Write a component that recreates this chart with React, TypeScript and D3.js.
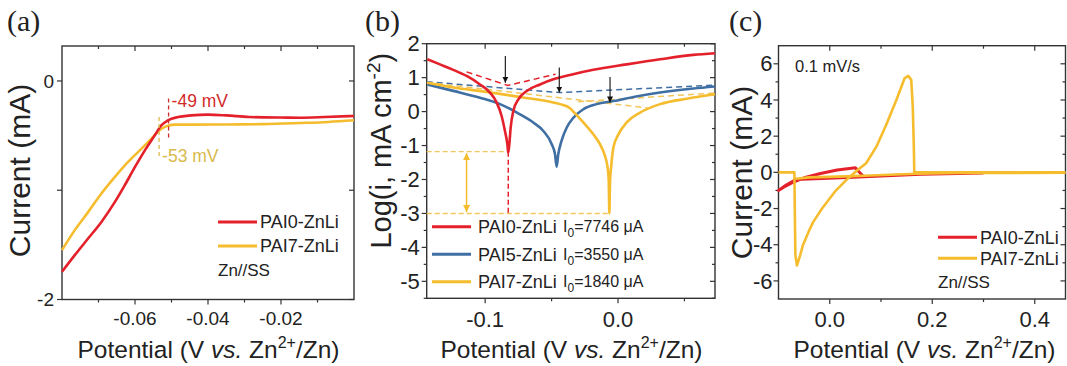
import React from "react";
import * as d3 from "d3";

type Pt = [number, number];

// ---------- Panel (a): LSV, Zn//SS ----------
const aPAI0: Pt[] = [
  [-0.08, -1.746], [-0.0765, -1.594], [-0.0728, -1.44], [-0.0692, -1.29], [-0.0655, -1.107],
  [-0.0628, -0.954], [-0.06, -0.787], [-0.0573, -0.635], [-0.0546, -0.498], [-0.0528, -0.406],
  [-0.051, -0.361], [-0.0482, -0.33], [-0.0446, -0.315], [-0.04, -0.308], [-0.035, -0.315],
  [-0.0287, -0.33], [-0.02, -0.335], [-0.015, -0.336], [-0.008, -0.33], [0, -0.32],
];
const aPAI7: Pt[] = [
  [-0.08, -1.548], [-0.0765, -1.365], [-0.0728, -1.198], [-0.0692, -1.03], [-0.0655, -0.878],
  [-0.0619, -0.741], [-0.0582, -0.619], [-0.0555, -0.528], [-0.0533, -0.452], [-0.0515, -0.416],
  [-0.0492, -0.4], [-0.0446, -0.4], [-0.035, -0.398], [-0.025, -0.395], [-0.015, -0.385],
  [-0.007, -0.375], [0, -0.36],
];
const aXMajor = [-0.06, -0.04, -0.02];
const aXMinor = [-0.07, -0.05, -0.03, -0.01];
const aYMajor = [0, -1, -2];
const aYLabeled = [0, -2];
const aOnsetV = [-0.0508, -0.0534];
const aOnsetTop = [-0.16, -0.33];
const aOnsetBot = [-0.54, -0.71];
const aOnsetTextY = [-0.24, -0.74];
const aOnsetText = ["-49 mV", "-53 mV"];

// ---------- Panel (b): Tafel ----------
const bPAI0: Pt[] = [
  [-0.1435, 1.54], [-0.134, 1.39], [-0.124, 1.23], [-0.1139, 1.05], [-0.1039, 0.8],
  [-0.0964, 0.56], [-0.0913, 0.265], [-0.0876, -0.13], [-0.0851, -0.57], [-0.0833, -0.96],
  [-0.0826, -1.21], [-0.0818, -0.96], [-0.0808, -0.47], [-0.0788, 0.02], [-0.075, 0.36],
  [-0.0687, 0.61], [-0.0587, 0.8], [-0.0487, 0.95], [-0.0361, 1.08], [-0.0186, 1.23],
  [0.0065, 1.39], [0.0316, 1.54], [0.0567, 1.67], [0.073, 1.72],
];
const bPAI5: Pt[] = [
  [-0.1435, 0.8], [-0.124, 0.61], [-0.1039, 0.41], [-0.0888, 0.22], [-0.0738, -0.08],
  [-0.0638, -0.32], [-0.0562, -0.57], [-0.0499, -0.96], [-0.0474, -1.26], [-0.0462, -1.62],
  [-0.045, -1.26], [-0.0424, -0.85], [-0.0386, -0.47], [-0.0336, -0.18], [-0.0261, 0.07],
  [-0.016, 0.22], [-0.0035, 0.31], [0.0116, 0.43], [0.0316, 0.56], [0.0567, 0.68], [0.073, 0.74],
];
const bPAI7: Pt[] = [
  [-0.1435, 0.85], [-0.124, 0.71], [-0.0988, 0.58], [-0.0738, 0.43], [-0.0487, 0.27],
  [-0.0437, 0.22], [-0.0361, 0.1], [-0.0336, 0.0], [-0.0261, -0.32], [-0.0186, -0.67],
  [-0.0136, -0.96], [-0.0098, -1.31], [-0.0078, -1.65], [-0.007, -2.05], [-0.0065, -3.0],
  [-0.006, -2.05], [-0.0052, -1.65], [-0.0035, -1.06], [0.0003, -0.67], [0.0065, -0.32],
  [0.0166, -0.03], [0.0316, 0.22], [0.0517, 0.38], [0.073, 0.51],
];
const bTafel0: Pt[] = [[-0.114, 1.17], [-0.083, 0.77], [-0.047, 1.1]];
const bTafel5: Pt[] = [[-0.144, 0.88], [-0.044, 0.56], [0.073, 0.78]];
const bTafel7a: Pt[] = [[-0.144, 0.86], [0.022, 0.11]];
const bTafel7b: Pt[] = [[-0.03, 0.29], [0.073, 0.55]];
const bArrows: [number, number, number][] = [
  [-0.0848, 1.64, 0.85], [-0.0442, 1.3, 0.56], [-0.006, 1.02, 0.27],
];
const bEcorr0 = -0.0826;
const bEcorr7 = -0.0065;
const bLevels = [-1.18, -3.0];
const bSpanX = -0.114;
const bNames = ["PAI0-ZnLi", "PAI5-ZnLi", "PAI7-ZnLi"];
const bI0 = ["7746", "3550", "1840"];
const bXMajor = [-0.1, 0.0];
const bXMinor = [-0.05, 0.05];
const bYMajor = [-5, -4, -3, -2, -1, 0, 1, 2];
const bYMinor = [-5.5, -4.5, -3.5, -2.5, -1.5, -0.5, 0.5, 1.5];

// ---------- Panel (c): CV ----------
const cPAI0: Pt[] = [
  [0.3, -0.03], [0.177, -0.1], [0.034, -0.28], [-0.066, -0.4], [-0.085, -0.7], [-0.1, -1.0],
  [-0.09, -0.82], [-0.075, -0.6], [-0.06, -0.42], [-0.05, -0.3], [-0.018, -0.06],
  [0.0145, 0.13], [0.05, 0.26], [0.057, 0.03], [0.065, -0.2],
];
const cPAI7: Pt[] = [
  [-0.1, 0], [-0.069, 0], [-0.068, -2.5], [-0.067, -4.6], [-0.064, -5.15], [-0.058, -4.6],
  [-0.052, -4.0], [-0.04, -3.2], [-0.0325, -2.75], [-0.015, -2.0], [0.01, -1.07],
  [0.032, -0.43], [0.052, 0.07], [0.071, 0.5], [0.091, 1.42], [0.11, 2.62], [0.13, 4.0],
  [0.146, 5.2], [0.153, 5.33], [0.159, 5.11], [0.162, 3.63], [0.164, 1.5], [0.165, 0],
  [0.3, 0], [0.46, 0],
];
const cPAI7Low: Pt[] = [
  [-0.066, -0.35], [-0.04, -0.28], [0.0, -0.25], [0.03, -0.22], [0.08, -0.17],
  [0.13, -0.12], [0.17, -0.08], [0.25, -0.04], [0.46, -0.02],
];
const cXMajor = [0.0, 0.2, 0.4];
const cXMinor = [0.1, 0.3];
const cYMajor = [-6, -4, -2, 0, 2, 4, 6];
const cYMinor = [-5, -3, -1, 1, 3, 5];

const RED = "#e4202a";
const YEL = "#f5bd2e";
const YEL_D = "#f2c65a";
const BLUE = "#3f6fa3";
const AXC = "#333";
const TXT = "#222";
const SANS = "'Liberation Sans', Arial, sans-serif";
const SERIF = "'Liberation Serif', 'Times New Roman', serif";

function Frame(p: any) {
  const { x, y, xMajor, xMinor, xFmt, yMajor, yMinor, yLab, yFmt, fs, yGap, xLabY } = p;
  const [L, R] = x.range();
  const [B, T] = y.range();
  const els: any[] = [];
  const xt = (v: number, len: number, k: string) => {
    const px = x(v);
    els.push(<line key={"xb" + k} x1={px} x2={px} y1={B} y2={B + len} stroke={AXC} strokeWidth={1.2} />);
    els.push(<line key={"xt" + k} x1={px} x2={px} y1={T} y2={T + len} stroke={AXC} strokeWidth={1.2} />);
  };
  const yt = (v: number, len: number, k: string) => {
    const py = y(v);
    els.push(<line key={"yl" + k} x1={L - len} x2={L} y1={py} y2={py} stroke={AXC} strokeWidth={1.2} />);
    els.push(<line key={"yr" + k} x1={R - len} x2={R} y1={py} y2={py} stroke={AXC} strokeWidth={1.2} />);
  };
  xMajor.forEach((v: number, i: number) => {
    xt(v, 5, "M" + i);
    els.push(
      <text key={"xl" + i} x={x(v)} y={xLabY} textAnchor="middle" fontSize={fs} fill={TXT} fontFamily={SANS}>
        {xFmt(v)}
      </text>
    );
  });
  xMinor.forEach((v: number, i: number) => xt(v, 3, "m" + i));
  yMajor.forEach((v: number, i: number) => yt(v, 5, "M" + i));
  yMinor.forEach((v: number, i: number) => yt(v, 3, "m" + i));
  yLab.forEach((v: number, i: number) =>
    els.push(
      <text key={"yla" + i} x={L - yGap} y={y(v)} dy="0.35em" textAnchor="end" fontSize={fs} fill={TXT} fontFamily={SANS}>
        {yFmt(v)}
      </text>
    )
  );
  return (
    <g>
      {els}
      <rect x={L} y={T} width={R - L} height={B - T} fill="none" stroke={AXC} strokeWidth={1.4} />
    </g>
  );
}

function XTitle({ cx }: { cx: number }) {
  return (
    <text x={cx} y={358} textAnchor="middle" fontSize={24.5} fill={TXT} fontFamily={SANS}>
      <tspan>{"Potential (V "}</tspan>
      <tspan fontStyle="italic">{"vs."}</tspan>
      <tspan>{" Zn"}</tspan>
      <tspan fontSize={16} dy={-10}>{"2+"}</tspan>
      <tspan dy={10}>{"/Zn)"}</tspan>
    </text>
  );
}

function LegendRow({ x, y, color, label, fs }: any) {
  return (
    <g>
      <line x1={x} x2={x + 39} y1={y} y2={y} stroke={color} strokeWidth={3} />
      <text x={x + 42} y={y} dy="0.35em" fontSize={fs} fill={TXT} fontFamily={SANS}>{label}</text>
    </g>
  );
}

export default function App() {
  const aX = d3.scaleLinear().domain([-0.08, 0]).range([62, 354]);
  const aY = d3.scaleLinear().domain([-2, 0.32]).range([299.5, 46]);
  const bX = d3.scaleLinear().domain([-0.144, 0.073]).range([426.7, 715]);
  const bY = d3.scaleLinear().domain([-5.5, 2]).range([298.3, 43.7]);
  const cX = d3.scaleLinear().domain([-0.1, 0.46]).range([778.5, 1065.5]);
  const cY = d3.scaleLinear().domain([-7, 7]).range([299, 45.7]);

  const lineA = d3.line<Pt>().x((d) => aX(d[0])).y((d) => aY(d[1])).curve(d3.curveMonotoneX);
  const lineB = d3.line<Pt>().x((d) => bX(d[0])).y((d) => bY(d[1])).curve(d3.curveMonotoneX);
  const lineBs = d3.line<Pt>().x((d) => bX(d[0])).y((d) => bY(d[1]));
  const lineC = d3.line<Pt>().x((d) => cX(d[0])).y((d) => cY(d[1]));

  const fmt2 = (v: number) => v.toFixed(2);
  const fmt1 = (v: number) => v.toFixed(1);
  const fmt0 = (v: number) => String(v);

  return (
    <svg width={1067} height={366} style={{ position: "absolute", left: 0, top: 0, background: "#fff" }}>
      <defs>
        <marker id="arrK" viewBox="0 0 10 10" refX={10} refY={5} markerWidth={6} markerHeight={7}
          markerUnits="userSpaceOnUse" orient="auto">
          <path d="M0,0 L10,5 L0,10 z" fill="#111" />
        </marker>
        <marker id="arrY" viewBox="0 0 10 10" refX={10} refY={5} markerWidth={7} markerHeight={7}
          markerUnits="userSpaceOnUse" orient="auto-start-reverse">
          <path d="M0,0 L10,5 L0,10 z" fill={YEL} />
        </marker>
      </defs>
      <rect x={0} y={0} width={1067} height={366} fill="#fff" />

      {/* ---------- (a) ---------- */}
      <text x={7} y={31} fontSize={30} fontFamily={SERIF} fill={TXT}>(a)</text>
      <Frame x={aX} y={aY} xMajor={aXMajor} xMinor={aXMinor} xFmt={fmt2} yMajor={aYMajor} yMinor={[]}
        yLab={aYLabeled} yFmt={fmt0} fs={19} yGap={8} xLabY={325} />
      <path d={lineA(aPAI7) || ""} fill="none" stroke={YEL} strokeWidth={2.6} />
      <path d={lineA(aPAI0) || ""} fill="none" stroke={RED} strokeWidth={2.6} />
      {aOnsetV.map((v, i) => (
        <g key={"on" + i}>
          <line x1={aX(v)} x2={aX(v)} y1={aY(aOnsetTop[i])} y2={aY(aOnsetBot[i])}
            stroke={i === 0 ? "#c9302c" : "#dcbc4e"} strokeWidth={1.3} strokeDasharray="4,3" />
          <text x={aX(v) + 3} y={aY(aOnsetTextY[i])} fontSize={17.5} fontFamily={SANS}
            fill={i === 0 ? "#d22a2a" : "#d9b94a"}>{aOnsetText[i]}</text>
        </g>
      ))}
      <LegendRow x={218} y={222} color={RED} label="PAI0-ZnLi" fs={18} />
      <LegendRow x={218} y={246} color={YEL} label="PAI7-ZnLi" fs={18} />
      <text x={218} y={270} dy="0.35em" fontSize={17} fill={TXT} fontFamily={SANS}>Zn//SS</text>
      <text transform="translate(30,170.5) rotate(-90)" textAnchor="middle" fontSize={30} fill={TXT} fontFamily={SANS}>
        Current (mA)
      </text>
      <XTitle cx={208.5} />

      {/* ---------- (b) ---------- */}
      <text x={365} y={31} fontSize={30} fontFamily={SERIF} fill={TXT}>(b)</text>
      <Frame x={bX} y={bY} xMajor={bXMajor} xMinor={bXMinor} xFmt={fmt1} yMajor={bYMajor} yMinor={bYMinor}
        yLab={bYMajor} yFmt={fmt0} fs={22} yGap={7} xLabY={327} />
      {/* annotations */}
      <line x1={bX(-0.144)} x2={bX(bEcorr0)} y1={bY(bLevels[0])} y2={bY(bLevels[0])} stroke={YEL_D} strokeWidth={1.4} strokeDasharray="5,3" />
      <line x1={bX(-0.144)} x2={bX(bEcorr7)} y1={bY(bLevels[1])} y2={bY(bLevels[1])} stroke={YEL_D} strokeWidth={1.4} strokeDasharray="5,3" />
      <line x1={bX(bEcorr0)} x2={bX(bEcorr0)} y1={bY(bLevels[0])} y2={bY(bLevels[1])} stroke={RED} strokeWidth={1.5} strokeDasharray="5,3" />
      <line x1={bX(bSpanX)} x2={bX(bSpanX)} y1={bY(bLevels[0] - 0.04)} y2={bY(bLevels[1] + 0.04)} stroke={YEL} strokeWidth={1.5}
        markerStart="url(#arrY)" markerEnd="url(#arrY)" />
      <path d={lineBs(bTafel5) || ""} fill="none" stroke={BLUE} strokeWidth={1.5} strokeDasharray="6,4" />
      <path d={lineBs(bTafel7a) || ""} fill="none" stroke={YEL_D} strokeWidth={1.5} strokeDasharray="6,4" />
      <path d={lineBs(bTafel7b) || ""} fill="none" stroke={YEL_D} strokeWidth={1.5} strokeDasharray="6,4" />
      <path d={lineBs(bTafel0) || ""} fill="none" stroke={RED} strokeWidth={1.5} strokeDasharray="6,4" />
      <path d={lineB(bPAI5) || ""} fill="none" stroke={BLUE} strokeWidth={2.6} />
      <path d={lineB(bPAI7) || ""} fill="none" stroke={YEL} strokeWidth={2.6} />
      <path d={lineB(bPAI0) || ""} fill="none" stroke={RED} strokeWidth={2.6} />
      {bArrows.map((a, i) => (
        <line key={"ba" + i} x1={bX(a[0])} x2={bX(a[0])} y1={bY(a[1])} y2={bY(a[2])} stroke="#222" strokeWidth={1.2}
          markerEnd="url(#arrK)" />
      ))}
      {bNames.map((n, i) => {
        const yy = 226.7 + i * 27.5;
        const col = [RED, BLUE, YEL][i];
        return (
          <g key={"bl" + i}>
            <line x1={432} x2={471} y1={yy} y2={yy} stroke={col} strokeWidth={3} />
            <text x={478} y={yy} dy="0.35em" fontSize={18} fill={TXT} fontFamily={SANS}>{n}</text>
            <text x={563} y={yy} dy="0.35em" fontSize={16} fill={TXT} fontFamily={SANS}>
              <tspan>I</tspan>
              <tspan fontSize={12} dy={5}>0</tspan>
              <tspan dy={-5}>{"=" + bI0[i] + " \u03bcA"}</tspan>
            </text>
          </g>
        );
      })}
      <text transform="translate(391,150.7) rotate(-90)" textAnchor="middle" fontSize={29} fill={TXT} fontFamily={SANS}>
        <tspan>{"Log(i, mA cm"}</tspan>
        <tspan fontSize={19} dy={-11}>{"-2"}</tspan>
        <tspan dy={11}>{")"}</tspan>
      </text>
      <XTitle cx={571.5} />

      {/* ---------- (c) ---------- */}
      <text x={729} y={31} fontSize={30} fontFamily={SERIF} fill={TXT}>(c)</text>
      <Frame x={cX} y={cY} xMajor={cXMajor} xMinor={cXMinor} xFmt={fmt1} yMajor={cYMajor} yMinor={cYMinor}
        yLab={cYMajor} yFmt={fmt0} fs={22} yGap={6} xLabY={327} />
      <path d={lineC(cPAI0) || ""} fill="none" stroke={RED} strokeWidth={3} strokeLinejoin="round" />
      <path d={lineC(cPAI7Low) || ""} fill="none" stroke={YEL} strokeWidth={2.6} strokeLinejoin="round" />
      <path d={lineC(cPAI7) || ""} fill="none" stroke={YEL} strokeWidth={2.6} strokeLinejoin="round" />
      <text x={795} y={66} dy="0.35em" fontSize={16.5} fill={TXT} fontFamily={SANS}>0.1 mV/s</text>
      <LegendRow x={938} y={237.3} color={RED} label="PAI0-ZnLi" fs={18} />
      <LegendRow x={938} y={258.3} color={YEL} label="PAI7-ZnLi" fs={18} />
      <text x={938} y={282} dy="0.35em" fontSize={17} fill={TXT} fontFamily={SANS}>Zn//SS</text>
      <text transform="translate(752,172.5) rotate(-90)" textAnchor="middle" fontSize={30} fill={TXT} fontFamily={SANS}>
        Current (mA)
      </text>
      <XTitle cx={924.5} />
    </svg>
  );
}
